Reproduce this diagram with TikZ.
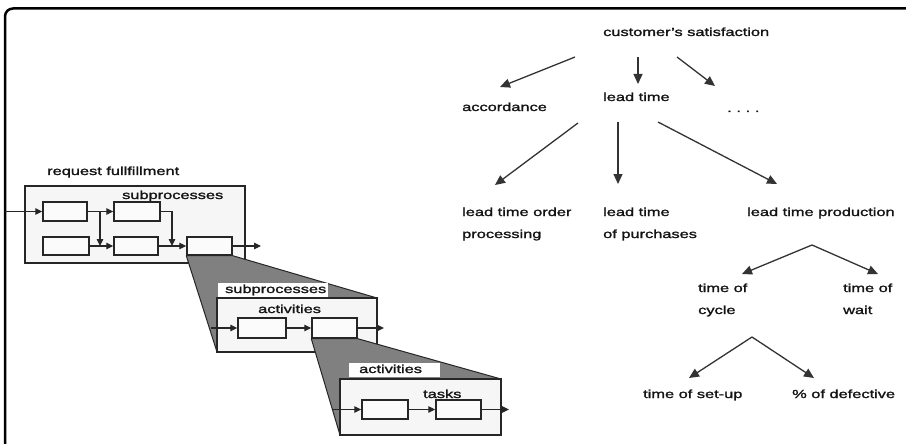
\documentclass[tikz,border=0pt]{standalone}
\usepackage{fontspec}
\setmainfont{Liberation Sans}[FakeStretch=1.4,FakeBold=1.6]
\usetikzlibrary{arrows.meta,calc}
\begin{document}
\begin{tikzpicture}[x=1pt,y=-1pt,
  txt/.style={inner sep=0pt, anchor=base west, font=\fontsize{11.7}{22}\selectfont, text=black!92, align=left},
  sbox/.style={draw=black!85, line width=1.4pt, fill=gray!3, minimum height=19pt, inner sep=0pt},
  bigbox/.style={draw=black!85, line width=1.5pt, fill=gray!7, inner sep=0pt},
  proj/.style={draw=black!85, line width=1pt, fill=black!50, line join=round},
  flow/.style={line width=1.2pt, draw=black!85, -{Triangle[length=7pt,width=6.5pt]}},
  tree/.style={line width=1.3pt, draw=black!80, -{Triangle[length=10pt,width=9pt]}},
  tab/.style={fill=white}
]
\useasboundingbox (0,0) rectangle (906,444);
\fill[white] (0,0) rectangle (906,444);
% frame
\draw[line width=2.5pt, rounded corners=8pt] (5,446) -- (5,8.5) -- (908,8.5);

% ---------- right tree ----------
\node[txt] (cs) at (603,36) {customer's satisfaction};
\node[txt] (acc) at (462,111) {accordance};
\node[txt] (lt) at (603,101) {lead time};
\node[txt, font=\fontsize{11.7}{22}\selectfont\addfontfeature{LetterSpace=40}] (dots) at (727,112) {....};
\node[txt] (lto) at (462,238) {lead time order\\processing};
\node[txt] (ltp) at (603,238) {lead time\\of purchases};
\node[txt] (ltprod) at (747,216) {lead time production};
\node[txt] (toc) at (698,314) {time of\\cycle};
\node[txt] (tow) at (843,314) {time of\\wait};
\node[txt] (tos) at (643,398) {time of set-up};
\node[txt] (pod) at (792,398) {\% of defective};

\coordinate (a1s) at (575,57);  \coordinate (a1e) at (500,87);
\coordinate (a2s) at (638,57);  \coordinate (a2e) at (638,84);
\coordinate (a3s) at (677,57);  \coordinate (a3e) at (715,86);
\coordinate (b1s) at (578,123); \coordinate (b1e) at (495,185);
\coordinate (b2s) at (618,122); \coordinate (b2e) at (618,184);
\coordinate (b3s) at (658,122); \coordinate (b3e) at (777,184);
\coordinate (c0) at (812,245);  \coordinate (c1) at (742,274); \coordinate (c2) at (878,274);
\coordinate (d0) at (752,337);  \coordinate (d1) at (689,378); \coordinate (d2) at (814,378);

\draw[tree] (a1s) -- (a1e);
\draw[tree] (a2s) -- (a2e);
\draw[tree] (a3s) -- (a3e);
\draw[tree] (b1s) -- (b1e);
\draw[tree] (b2s) -- (b2e);
\draw[tree] (b3s) -- (b3e);
\draw[tree] (c0) -- (c1);
\draw[tree] (c0) -- (c2);
\draw[tree] (d0) -- (d1);
\draw[tree] (d0) -- (d2);

% ---------- left process zoom ----------
\node[txt] (rf) at (47,175) {request fullfillment};
\node[bigbox, minimum width=220pt, minimum height=77pt] (box1) at (135,224.5) {};
\node[txt] (sp1) at (122,199) {subprocesses};
\node[sbox, minimum width=44pt] (A) at (65,211.5) {};
\node[sbox, minimum width=46pt] (B) at (137,211.5) {};
\node[sbox, minimum width=46pt, minimum height=18pt] (C) at (66,246) {};
\node[sbox, minimum width=44pt, minimum height=18pt] (D) at (136,246) {};
\node[sbox, minimum width=45pt, minimum height=18pt] (E) at (209.5,246) {};
\coordinate (in1) at (5,211.5);
\coordinate (out1) at (261,246);
\coordinate (j1) at (100,211.5);
\coordinate (j2) at (172,211.5);
\draw[flow] (in1) -- (A.west);
\draw[flow] (A.east) -- (B.west);
\draw[flow] (j1) -- (j1 |- C.east);
\draw[flow] (C.east) -- (D.west);
\draw[flow] (B.east) -- (j2) -- (j2 |- D.east);
\draw[flow] (D.east) -- (E.west);
\draw[flow] (E.east) -- (out1);

% projection 1
\draw[proj] (E.south west) -- (E.south east) -- (377,298) -- (217,298) -- (217,352) -- cycle;
\node[bigbox, minimum width=160pt, minimum height=54pt] (box2) at (297,325) {};
\fill[tab] (217.8,283) rectangle (328,297);
\node[txt] (sp2) at (225,293) {subprocesses};
\node[txt] (ac2) at (258,313) {activities};
\node[sbox, minimum width=48pt, minimum height=20pt] (F) at (262,328) {};
\node[sbox, minimum width=45pt, minimum height=20pt] (G) at (334.5,328) {};
\coordinate (in2) at (211,328);
\coordinate (out2) at (384,328);
\draw[flow] (in2) -- (F.west);
\draw[flow] (F.east) -- (G.west);
\draw[flow] (G.east) -- (out2);

% projection 2
\draw[proj] (G.south west) -- (G.south east) -- (501,379) -- (340,379) -- (340,435) -- cycle;
\node[bigbox, minimum width=161pt, minimum height=56pt] (box3) at (420.5,407) {};
\fill[tab] (349,363) rectangle (440,377);
\node[txt] (ac3) at (359,373) {activities};
\node[txt] (tk) at (423,398) {tasks};
\node[sbox, minimum width=46pt] (H) at (385,409.5) {};
\node[sbox, minimum width=45pt] (I) at (458.5,409.5) {};
\coordinate (in3) at (333,409.5);
\coordinate (out3) at (509,409.5);
\draw[flow] (in3) -- (H.west);
\draw[flow] (H.east) -- (I.west);
\draw[flow] (I.east) -- (out3);
\end{tikzpicture}
\end{document}
